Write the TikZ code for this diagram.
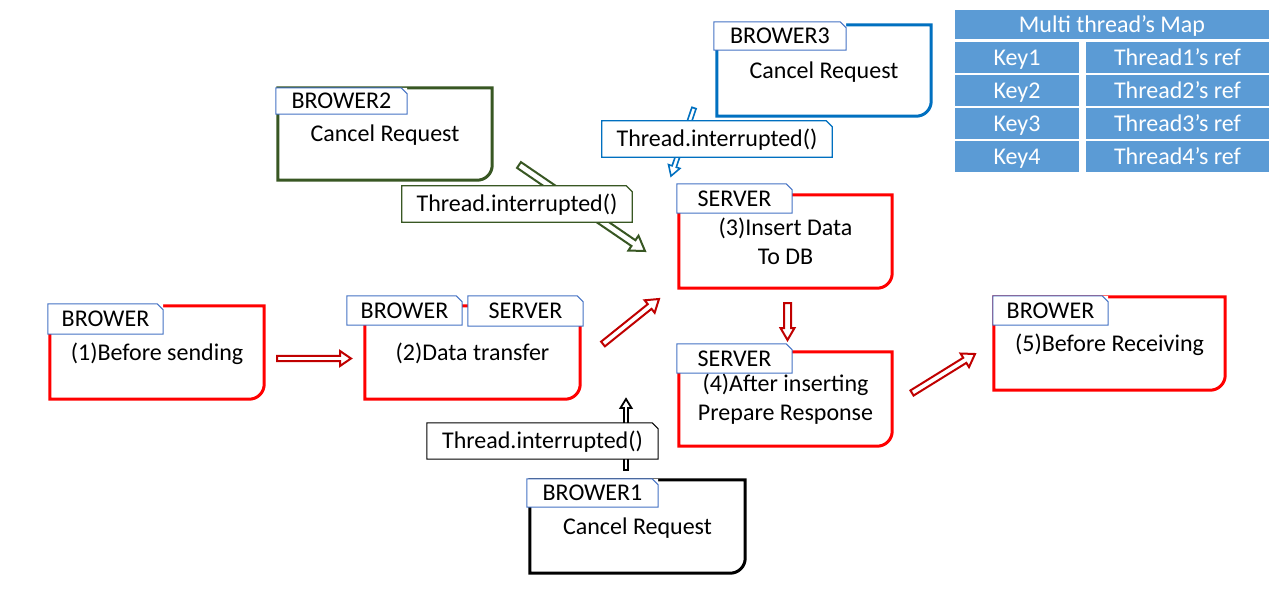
\documentclass[tikz,border=0pt]{standalone}
\usepackage{fontspec}
\setmainfont{Carlito}
\usetikzlibrary{calc}
\definecolor{boxred}{HTML}{FF0000}
\definecolor{arrred}{HTML}{C00000}
\definecolor{dgreen}{HTML}{385723}
\definecolor{dblue}{HTML}{0070C0}
\definecolor{tabblue}{HTML}{4472C4}
\definecolor{tblue}{HTML}{5B9BD5}
\newcommand\fsz{\fontsize{24}{29}\selectfont}
% outline of a box with a rounded south-east corner
\newcommand\rbox[2]{%
  \draw[line width=3pt, draw=#2, line join=miter]
    (#1.north west) -- (#1.north east) -- ([yshift=15pt]#1.south east)
    .. controls ([yshift=6.7pt]#1.south east) and ([xshift=-6.7pt]#1.south east) ..
    ([xshift=-15pt]#1.south east) -- (#1.south west) -- cycle;}
% outline of a tab with a clipped north-east corner
\newcommand\tabout[3]{%
  \fill[white] ([xshift=-6pt]#1.north east) -- ([yshift=-6pt]#1.north east) -- (#1.north east) -- cycle;
  \draw[line width=#3, draw=#2, line join=miter]
    (#1.north west) -- ([xshift=-6pt]#1.north east) -- ([yshift=-6pt]#1.north east)
    -- (#1.south east) -- (#1.south west) -- cycle;}
% hollow block arrow: style, from, to, shaft half width, head half width, head length
\newcommand\barrow[6]{%
  \coordinate (hq) at ($(#3)!#6!(#2)$);
  \draw[#1] ($(#2)!#4!90:(#3)$) -- ($(hq)!#4!90:(#3)$) -- ($(hq)!#5!90:(#3)$)
    -- (#3) -- ($(hq)!#5!-90:(#3)$) -- ($(hq)!#4!-90:(#3)$) -- ($(#2)!#4!-90:(#3)$) -- cycle;}
\tikzset{
  oneline/.style={text height=17pt, text depth=1.5pt},
  mainbox/.style={draw=none, inner sep=0pt, align=center, font=\fsz},
  tabbox/.style={draw=none, fill=white, inner sep=0pt, font=\fsz, oneline},
  cell/.style={draw=none, fill=tblue, text=white, inner sep=0pt, font=\fsz, oneline},
  arr/.style={line width=2pt, draw=#1, fill=white, line join=miter}
}
\begin{document}
\begin{tikzpicture}[x=1pt, y=-1pt]
\useasboundingbox (0,0) rectangle (1280,591);
\fill[white] (0,0) rectangle (1280,591);

% ---- arrows (drawn first, labels lie over them)
\coordinate (a12s) at (277,358.5); \coordinate (a12e) at (351,358.5);
\coordinate (a23s) at (603,344);   \coordinate (a23e) at (659,299);
\coordinate (a34s) at (787.5,303); \coordinate (a34e) at (787.5,340);
\coordinate (a45s) at (912,393);   \coordinate (a45e) at (975,354);
\coordinate (ags) at (519,165);    \coordinate (age) at (645,251);
\coordinate (abs) at (694,108);    \coordinate (abe) at (671,176);
\coordinate (aks) at (626,470);    \coordinate (ake) at (626,399);

\barrow{arr=arrred}{a12s}{a12e}{2.6pt}{7.5pt}{11pt}
\barrow{arr=arrred}{a23s}{a23e}{3pt}{8pt}{12pt}
\barrow{arr=arrred}{a34s}{a34e}{3.5pt}{7pt}{12pt}
\barrow{arr=arrred}{a45s}{a45e}{3pt}{8pt}{12pt}
\barrow{arr=dgreen}{ags}{age}{3.5pt}{9pt}{14pt}
\barrow{arr=dblue,line width=1.6pt}{abs}{abe}{2.2pt}{6pt}{10pt}
\barrow{arr=black,line width=1.8pt}{aks}{ake}{2pt}{5.5pt}{9pt}

% ---- main boxes
\node[mainbox, oneline, minimum width=214pt, minimum height=93pt] (b1) at (157,352.5) {(1)Before sending};
\rbox{b1}{boxred}
\node[mainbox, oneline, minimum width=215pt, minimum height=93pt] (b2) at (472.5,352.5) {(2)Data transfer};
\rbox{b2}{boxred}
\node[mainbox, minimum width=213pt, minimum height=93pt] (b3) at (785.5,241.5) {(3)Insert Data\\To DB};
\rbox{b3}{boxred}
\node[mainbox, minimum width=213pt, minimum height=94pt] (b4) at (785.5,399) {(4)After inserting\\Prepare Response};
\rbox{b4}{boxred}
\node[mainbox, oneline, minimum width=231pt, minimum height=93pt] (b5) at (1109.5,343.5) {(5)Before Receiving};
\rbox{b5}{boxred}
\node[mainbox, oneline, minimum width=214pt, minimum height=92pt] (c2) at (385,134) {Cancel Request};
\rbox{c2}{dgreen}
\node[mainbox, oneline, minimum width=214pt, minimum height=91pt] (c3) at (824,70.5) {Cancel Request};
\rbox{c3}{dblue}
\node[mainbox, oneline, minimum width=215pt, minimum height=93pt] (c1) at (637.5,526.5) {Cancel Request};
\rbox{c1}{black}

% ---- tabs
\node[tabbox, minimum width=115pt, minimum height=30pt] (t1) at (105.5,319) {BROWER};
\tabout{t1}{tabblue}{1pt}
\node[tabbox, minimum width=115pt, minimum height=29pt] (t2a) at (404.5,310.5) {BROWER};
\tabout{t2a}{tabblue}{1pt}
\node[tabbox, minimum width=115pt, minimum height=30pt] (t2b) at (525.5,311) {SERVER};
\tabout{t2b}{tabblue}{1pt}
\node[tabbox, minimum width=115pt, minimum height=29pt] (t3) at (734.5,198.5) {SERVER};
\tabout{t3}{tabblue}{1pt}
\node[tabbox, minimum width=115pt, minimum height=29pt] (t4) at (734.5,358.5) {SERVER};
\tabout{t4}{tabblue}{1pt}
\node[tabbox, minimum width=115pt, minimum height=29pt] (t5) at (1050.5,310.5) {BROWER};
\tabout{t5}{tabblue}{1pt}
\node[tabbox, minimum width=131pt, minimum height=26pt] (tc2) at (341.5,101) {BROWER2};
\tabout{tc2}{tabblue}{1pt}
\node[tabbox, minimum width=132pt, minimum height=28pt] (tc3) at (780,36) {BROWER3};
\tabout{tc3}{tabblue}{1pt}
\node[tabbox, minimum width=131pt, minimum height=28pt] (tc1) at (592.5,493) {BROWER1};
\tabout{tc1}{tabblue}{1pt}

% ---- interrupt labels
\node[tabbox, minimum width=230pt, minimum height=36pt] (lg) at (517,204) {Thread.interrupted()};
\tabout{lg}{dgreen}{1.2pt}
\node[tabbox, minimum width=230pt, minimum height=36pt] (lb) at (717,139) {Thread.interrupted()};
\tabout{lb}{dblue}{1.2pt}
\node[tabbox, minimum width=231pt, minimum height=36pt] (lk) at (542.5,441) {Thread.interrupted()};
\tabout{lk}{black}{1pt}

% ---- map table
\node[cell, minimum width=314pt, minimum height=29pt] (hdr) at (1112,24.5) {Multi thread’s Map};
\node[cell, minimum width=124pt, minimum height=31pt] (k1) at (1017,57.5) {Key1};
\node[cell, minimum width=183pt, minimum height=31pt] (v1) at (1177.5,57.5) {Thread1’s ref};
\node[cell, minimum width=124pt, minimum height=31pt] (k2) at (1017,90.5) {Key2};
\node[cell, minimum width=183pt, minimum height=31pt] (v2) at (1177.5,90.5) {Thread2’s ref};
\node[cell, minimum width=124pt, minimum height=31pt] (k3) at (1017,123.5) {Key3};
\node[cell, minimum width=183pt, minimum height=31pt] (v3) at (1177.5,123.5) {Thread3’s ref};
\node[cell, minimum width=124pt, minimum height=31pt] (k4) at (1017,156.5) {Key4};
\node[cell, minimum width=183pt, minimum height=31pt] (v4) at (1177.5,156.5) {Thread4’s ref};
\end{tikzpicture}
\end{document}
